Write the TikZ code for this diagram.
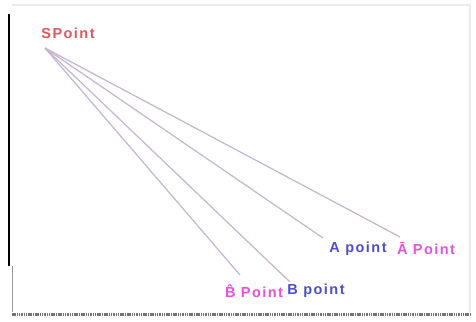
\documentclass[tikz,border=0pt]{standalone}
\usepackage{fontspec}
\setsansfont{Liberation Sans}
\usetikzlibrary{positioning}
\definecolor{spred}{RGB}{222,86,96}
\definecolor{ptblue}{RGB}{78,78,205}
\definecolor{ptpink}{RGB}{228,82,222}
\definecolor{raycol}{RGB}{196,180,212}
\tikzset{
label/.style={font=\sffamily\bfseries\fontsize{14.5}{14.5}\selectfont\addfontfeatures{LetterSpace=10},inner sep=0pt},
origin/.style={label,text=spred},
plain/.style={label,text=ptblue},
accent/.style={label,text=ptpink},
ray/.style={draw=raycol,line width=1.2pt}
}
\begin{document}
\begin{tikzpicture}[x=1pt,y=-1pt]
\useasboundingbox (0,0) rectangle (476,321);
% frame
\fill[white] (0,0) rectangle (476,321);
\draw[black!8,line width=1.5pt] (12,5) -- (470,5) -- (470,312);
\draw[black!55,line width=3pt,dash pattern=on 1.5pt off 0.8pt] (12,314) -- (470,314);
\draw[black,line width=2.5pt] (9,14) -- (9,266);
\draw[black!40,line width=1pt] (12,266) -- (12,312);
% labels
\node[origin](spoint) at (68,33){SPoint};
\node[plain](apt) at (358,249){A point};
\node[accent](abar) at (426,249){Ā Point};
\node[accent](bhat) at (254,291){\^{B} Point};
\node[plain](bpt) at (316,291){B point};
% ray ends
\coordinate (s) at (45,48);
\coordinate (ea) at (323,238);
\coordinate (eabar) at (400,237);
\coordinate (ebhat) at (240,275);
\coordinate (eb) at (290,282);
\draw[ray](s)--(ea);\draw[ray](s)--(eabar);\draw[ray](s)--(ebhat);\draw[ray](s)--(eb);
\end{tikzpicture}
\end{document}
